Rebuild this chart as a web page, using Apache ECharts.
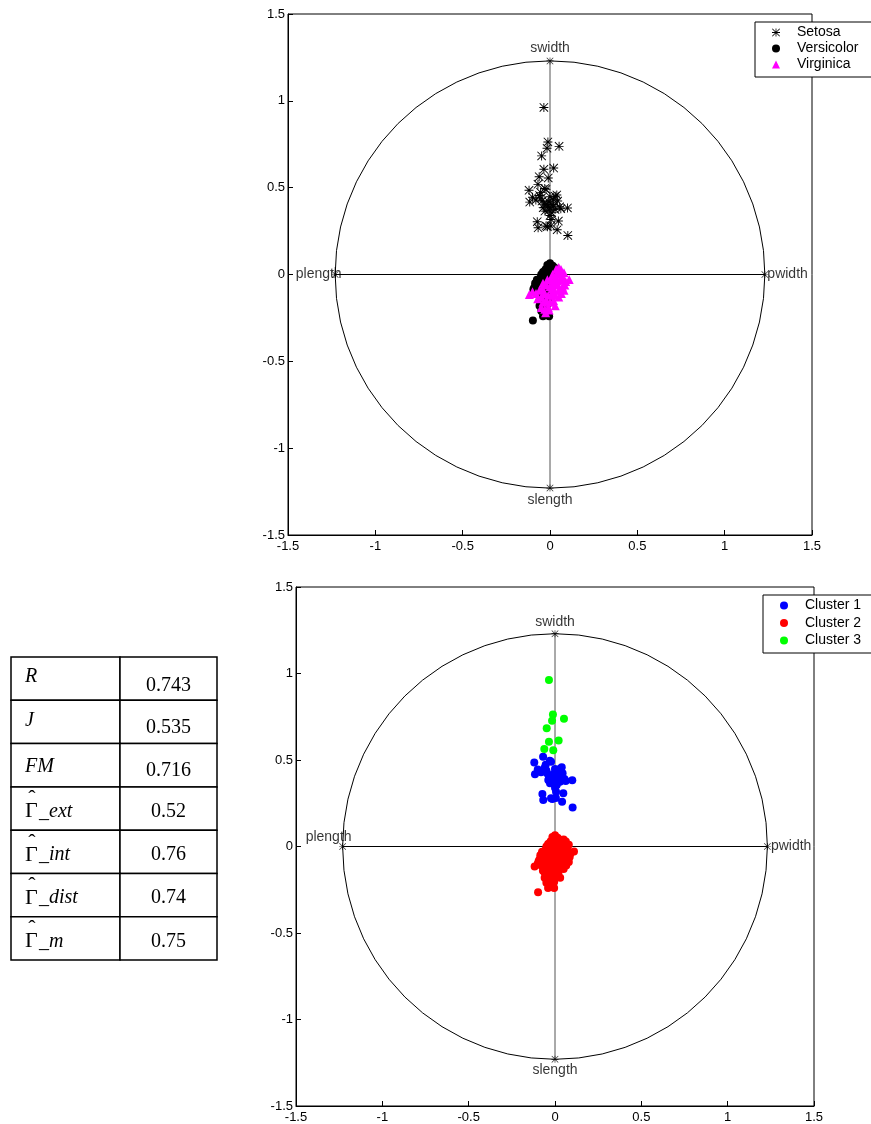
<!DOCTYPE html>
<html>
<head>
<meta charset="utf-8">
<script src="https://cdn.jsdelivr.net/npm/echarts@6/dist/echarts.min.js"></script>
<style>
  html, body { margin: 0; padding: 0; background: #fff; }
  #chart { width: 871px; height: 1124px; }
</style>
</head>
<body>
<div id="chart"></div>
<script>
// Iris data projected on the plane: species (top) and a 3-cluster partition (bottom)
const setosaCluster1 = [
  [-0.069, 0.519], [-0.120, 0.485], [-0.054, 0.473], [-0.023, 0.490], [-0.030, 0.495],
  [-0.116, 0.417], [-0.100, 0.445], [-0.081, 0.429], [0.000, 0.448], [0.039, 0.458],
  [0.030, 0.450], [-0.046, 0.423], [-0.019, 0.404], [0.019, 0.433], [0.044, 0.423],
  [-0.008, 0.419], [-0.039, 0.385], [0.000, 0.385], [-0.029, 0.365], [0.029, 0.375],
  [0.062, 0.379], [0.100, 0.383], [0.010, 0.356], [-0.012, 0.395], [0.015, 0.403],
  [-0.035, 0.405], [0.006, 0.317], [0.048, 0.308], [-0.073, 0.304], [-0.068, 0.269],
  [-0.015, 0.275], [-0.023, 0.279], [0.041, 0.258], [0.102, 0.225], [0.000, 0.340],
  [-0.050, 0.440], [0.020, 0.395], [0.055, 0.390], [-0.005, 0.370], [0.005, 0.280],
  [-0.060, 0.455]
];
const setosaCluster3 = [
  [-0.035, 0.962], [-0.012, 0.763], [0.052, 0.738], [-0.017, 0.727], [-0.048, 0.683],
  [-0.035, 0.606], [0.021, 0.613], [-0.062, 0.563], [-0.010, 0.556]
];
const versicolor = [
  [0.000, 0.065], [0.015, 0.050], [-0.010, 0.040], [-0.030, 0.020], [-0.040, 0.015],
  [-0.045, -0.010], [-0.055, -0.020], [-0.060, -0.030], [-0.070, -0.045], [-0.080, -0.060],
  [-0.090, -0.075], [-0.095, -0.085], [-0.065, -0.070], [-0.030, -0.060], [-0.010, -0.040],
  [0.005, -0.020], [0.020, 0.010], [-0.020, -0.010], [-0.050, -0.050], [-0.040, -0.090],
  [-0.020, -0.100], [-0.005, -0.140], [-0.035, -0.150], [-0.060, -0.120], [-0.025, -0.200],
  [-0.040, -0.240], [-0.005, -0.240], [-0.098, -0.265], [-0.060, -0.180], [-0.015, -0.170],
  [0.010, 0.030], [0.025, 0.040], [-0.025, 0.030], [-0.015, 0.055], [0.005, 0.000],
  [-0.075, -0.030], [-0.085, -0.050], [-0.050, 0.000], [-0.030, -0.030], [-0.010, -0.080],
  [-0.045, -0.110], [-0.070, -0.100], [0.010, -0.060], [-0.020, -0.130], [-0.050, -0.210],
  [-0.030, -0.225], [0.000, -0.110], [-0.060, -0.150], [-0.035, 0.000], [0.030, 0.020]
];
const virginica = [
  [-0.118, -0.115], [0.110, -0.029], [0.063, 0.029], [0.080, 0.010], [0.050, 0.040],
  [0.040, 0.010], [0.070, -0.010], [0.090, -0.040], [0.060, -0.030], [0.030, -0.020],
  [0.020, -0.050], [0.045, -0.060], [0.070, -0.070], [0.050, -0.090], [0.080, -0.090],
  [0.025, -0.090], [0.000, -0.070], [-0.020, -0.060], [-0.040, -0.050], [0.010, -0.110],
  [-0.010, -0.120], [0.030, -0.120], [-0.030, -0.110], [-0.060, -0.090], [-0.080, -0.110],
  [-0.100, -0.100], [-0.050, -0.130], [-0.040, -0.160], [-0.020, -0.150], [0.000, -0.160],
  [0.020, -0.150], [-0.010, -0.190], [-0.030, -0.200], [-0.050, -0.190], [-0.025, -0.220],
  [-0.005, -0.205], [0.050, -0.130], [0.060, -0.020], [0.035, 0.030], [0.015, 0.000],
  [0.040, -0.035], [0.085, -0.060], [-0.015, -0.030], [0.005, -0.030], [0.055, 0.005],
  [-0.070, -0.140], [0.030, -0.180], [0.015, -0.080], [0.065, -0.110], [-0.045, -0.080]
];
const setosa = setosaCluster1.concat(setosaCluster3);
const cluster2 = versicolor.concat(virginica);

// variable vectors of the biplot and the radius of the reference circle
const varNames = ['swidth', 'slength', 'plength', 'pwidth'];
const varEnds = [[0, 1.23], [0, -1.23], [-1.23, 0], [1.23, 0]];
const circleRadius = 1.23;

const axisMin = -1.5, axisMax = 1.5, axisStep = 0.5;

// validity indices shown in the side table
const tableLabels = ['R', 'J', 'FM', 'ext', 'int', 'dist', 'm'];
const tableValues = ['0.743', '0.535', '0.716', '0.52', '0.76', '0.74', '0.75'];

const SANS = '"Liberation Sans", Arial, sans-serif';
const SERIF = '"Liberation Serif", "Times New Roman", serif';

// eight-armed asterisk marker
const ASTERISK = 'path://M9,0L11,0L11,20L9,20Z M0,9L20,9L20,11L0,11Z ' +
  'M0,1.4L1.4,0L20,18.6L18.6,20Z M18.6,0L20,1.4L1.4,20L0,18.6Z';

const grids = [
  { left: 288, top: 14, width: 524, height: 521 },
  { left: 296, top: 587, width: 518, height: 520 }
];

function xAxis(i) {
  return {
    type: 'value', gridIndex: i, min: axisMin, max: axisMax, interval: axisStep,
    axisLine: { show: true, onZero: false, lineStyle: { color: '#000', width: 1 } },
    axisTick: { show: true, inside: true, length: 5, lineStyle: { color: '#000' } },
    axisLabel: { color: '#000', fontSize: 13, fontFamily: SANS, margin: 5 },
    splitLine: { show: false }
  };
}
function yAxis(i) {
  return {
    type: 'value', gridIndex: i, min: axisMin, max: axisMax, interval: axisStep,
    axisLine: { show: true, onZero: false, lineStyle: { color: '#000', width: 1 } },
    axisTick: { show: true, inside: true, length: 5, lineStyle: { color: '#000' } },
    axisLabel: { color: '#000', fontSize: 13, fontFamily: SANS, margin: 3 },
    splitLine: { show: false }
  };
}

// reference circle through the variable end points
function circleSeries(i) {
  return {
    type: 'custom', xAxisIndex: i, yAxisIndex: i, silent: true, z: 1,
    data: [[0, 0]],
    renderItem: function (params, api) {
      const pts = [];
      const n = 56;
      for (let k = 0; k < n; k++) {
        const a = 2 * Math.PI * k / n;
        pts.push(api.coord([circleRadius * Math.cos(a), circleRadius * Math.sin(a)]));
      }
      return {
        type: 'polygon', shape: { points: pts },
        style: { fill: 'transparent', stroke: '#000', lineWidth: 1 }
      };
    }
  };
}

// vectors from the origin to each variable end point
function vectorSeries(i) {
  return {
    type: 'custom', xAxisIndex: i, yAxisIndex: i, silent: true, z: 2,
    data: varEnds,
    renderItem: function (params, api) {
      const o = api.coord([0, 0]);
      const e = api.coord([api.value(0), api.value(1)]);
      const vertical = api.value(0) === 0;
      return {
        type: 'line', shape: { x1: o[0], y1: o[1], x2: e[0], y2: e[1] },
        style: { stroke: vertical ? '#555' : '#000', lineWidth: 1 }
      };
    }
  };
}

// star markers and names at the variable end points
function varLabelSeries(i, placements) {
  return {
    type: 'scatter', xAxisIndex: i, yAxisIndex: i, silent: true, z: 3,
    symbol: ASTERISK, symbolSize: 7,
    itemStyle: { color: '#000' },
    data: varEnds.map(function (p, k) {
      return {
        value: p,
        label: Object.assign({
          show: true, formatter: varNames[k], color: '#000',
          fontSize: 14, fontFamily: SANS
        }, placements[k])
      };
    })
  };
}

function pointSeries(name, i, data, symbol, size, color, z) {
  return {
    name: name, type: 'scatter', xAxisIndex: i, yAxisIndex: i, z: z,
    symbol: symbol, symbolSize: size, symbolKeepAspect: true, data: data,
    itemStyle: { color: color, opacity: 1 },
    emphasis: { disabled: true }
  };
}

// boxed legend; icons sit in a square slot and the text is pushed right
function legend(left, top, names, step) {
  return {
    orient: 'vertical', left: left, top: top, data: names,
    padding: [3, 40, 5, 17], itemWidth: 8, itemHeight: 8, itemGap: step - 15,
    symbolKeepAspect: true,
    backgroundColor: '#fff', borderColor: '#000', borderWidth: 1, borderRadius: 0,
    textStyle: { color: '#000', fontSize: 14, fontFamily: SANS, lineHeight: 15, padding: [0, 0, 0, 12] },
    selectedMode: false
  };
}

// side table of indices
function tableGraphics() {
  const x0 = 11, x1 = 120, x2 = 217, y0 = 657, rowH = 43.3;
  const labelShift = [-2, -1, 1, 3, 3, 3, 3];
  const valueShift = [7, 6, 5, 3, 3, 3, 3];
  const els = [];
  tableLabels.forEach(function (lab, r) {
    const top = y0 + r * rowH;
    els.push({ type: 'rect', shape: { x: x0, y: top, width: x1 - x0, height: rowH },
      style: { fill: '#fff', stroke: '#000', lineWidth: 1.5 } });
    els.push({ type: 'rect', shape: { x: x1, y: top, width: x2 - x1, height: rowH },
      style: { fill: '#fff', stroke: '#000', lineWidth: 1.5 } });
    const isGamma = r >= 3;
    const cy = top + rowH / 2 + labelShift[r];
    if (isGamma) {
      // capital Gamma with a hat, followed by the italic subscript name
      els.push({
        type: 'text', z: 10,
        style: {
          x: 25, y: cy, text: 'Γ', fill: '#000', font: '22px ' + SERIF,
          textVerticalAlign: 'middle', textAlign: 'left'
        }
      });
      els.push({
        type: 'text', z: 10,
        style: {
          x: 32, y: cy - 12, text: 'ˆ', fill: '#000', font: '22px ' + SERIF,
          textVerticalAlign: 'middle', textAlign: 'center'
        }
      });
      els.push({
        type: 'text', z: 10,
        style: {
          x: 39, y: cy, text: '_' + lab, fill: '#000', font: 'italic 20px ' + SERIF,
          textVerticalAlign: 'middle', textAlign: 'left'
        }
      });
    } else {
      els.push({
        type: 'text', z: 10,
        style: {
          x: 25, y: cy, text: lab, fill: '#000', font: 'italic 20px ' + SERIF,
          textVerticalAlign: 'middle', textAlign: 'left'
        }
      });
    }
    els.push({
      type: 'text', z: 10,
      style: {
        x: (x1 + x2) / 2, y: top + rowH / 2 + valueShift[r],
        text: tableValues[r], fill: '#000',
        font: '20px ' + SERIF,
        textVerticalAlign: 'middle', textAlign: 'center'
      }
    });
  });
  return els;
}

const chart = echarts.init(document.getElementById('chart'), null, { renderer: 'canvas' });
chart.setOption({
  animation: false,
  backgroundColor: '#fff',
  grid: grids.map(function (g) {
    return Object.assign({ show: true, borderColor: '#000', borderWidth: 1, backgroundColor: 'transparent' }, g);
  }),
  xAxis: [xAxis(0), xAxis(1)],
  yAxis: [yAxis(0), yAxis(1)],
  legend: [
    legend(755, 22, ['Setosa', 'Versicolor', 'Virginica'], 16),
    legend(763, 595, ['Cluster 1', 'Cluster 2', 'Cluster 3'], 17.5)
  ],
  graphic: tableGraphics(),
  series: [
    circleSeries(0),
    vectorSeries(0),
    varLabelSeries(0, [
      { position: 'top', distance: 2 },
      { position: 'bottom', distance: 2 },
      { position: 'left', distance: 0, offset: [10, 0] },
      { position: 'right', distance: 0, offset: [-1, 0] }
    ]),
    pointSeries('Setosa', 0, setosa, ASTERISK, 9, '#000', 4),
    pointSeries('Versicolor', 0, versicolor, 'circle', 8, '#000', 5),
    pointSeries('Virginica', 0, virginica, 'triangle', 9, '#ff00ff', 6),

    circleSeries(1),
    vectorSeries(1),
    varLabelSeries(1, [
      { position: 'top', distance: 1 },
      { position: 'bottom', distance: 0 },
      { position: 'top', distance: 0, offset: [-14, 1] },
      { position: 'right', distance: 0 }
    ]),
    pointSeries('Cluster 1', 1, setosaCluster1, 'circle', 8, '#0000ff', 4),
    pointSeries('Cluster 2', 1, cluster2, 'circle', 8, '#ff0000', 5),
    pointSeries('Cluster 3', 1, setosaCluster3, 'circle', 8, '#00ff00', 6)
  ]
});
</script>
</body>
</html>
